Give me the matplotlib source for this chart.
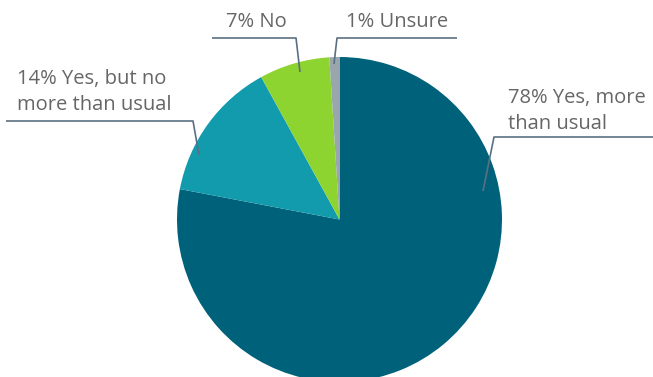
import matplotlib.pyplot as plt

# Data
labels = ['78% Yes, more\nthan usual', '14% Yes, but no\nmore than usual', '7% No', '1% Unsure']
values = [78, 14, 7, 1]
colors = ['#00627a', '#129aad', '#8ed431', '#9ba6ac']

W, H = 653, 377
fig = plt.figure(figsize=(W / 100, H / 100), dpi=100)
ax = fig.add_axes([0, 0, 1, 1])

def py(y):
    # convert image pixel row to axes y
    return H - y

ax.pie(values, colors=colors, startangle=90, counterclock=False,
       center=(339.5, py(219.5)), radius=162.5,
       wedgeprops=dict(linewidth=0))

ax.set_xlim(0, W)
ax.set_ylim(0, H)
ax.set_aspect('equal')
ax.axis('off')

line_kw = dict(color='#5b6f82', lw=1.2, solid_capstyle='butt')
text_kw = dict(color='#666666', fontsize=14.5, family='Open Sans', linespacing=1.38)

# leader lines (pixel positions)
leaders = [
    [(653, 137), (494, 137), (483, 191)],
    [(6, 121), (193, 121), (199, 155)],
    [(212, 38), (296, 38), (300, 72)],
    [(457, 38), (337, 38), (334, 64)],
]
for pts in leaders:
    ax.plot([p[0] for p in pts], [py(p[1]) for p in pts], **line_kw)

label_pos = [(508, 111), (17, 92), (226, 22), (346, 22)]
for lab, (x, y) in zip(labels, label_pos):
    ax.text(x, py(y), lab, ha='left', va='center', **text_kw)

fig.savefig('out.png', dpi=100)
